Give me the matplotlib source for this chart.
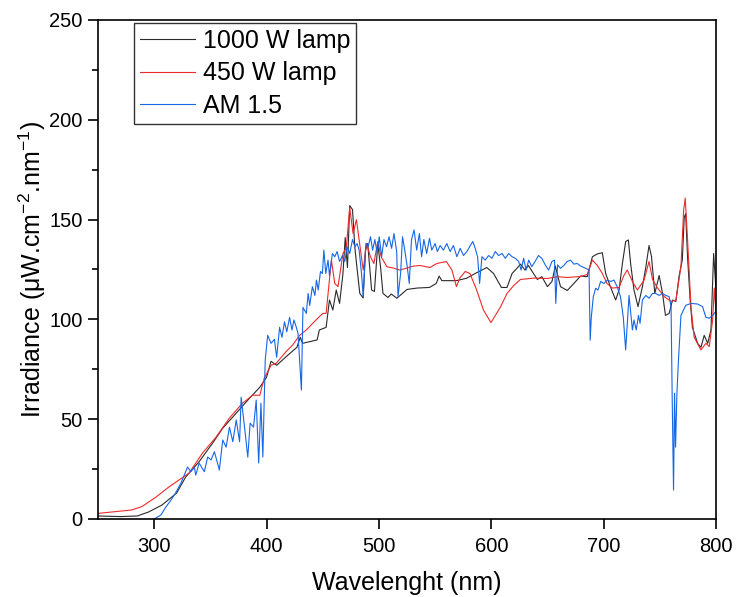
import matplotlib
matplotlib.use('Agg')
import matplotlib.pyplot as plt
from matplotlib.ticker import MultipleLocator

# 1000 W lamp
wl_1000 = [250, 270, 285, 295, 307, 320, 328, 340, 352, 361, 373, 385, 394, 400, 404, 409,
           418, 427, 430, 432, 445, 447, 453, 456, 459, 462, 465, 468, 470, 472, 474, 476.5,
           478.6, 480.5, 483, 486, 488, 490, 493.5, 496, 499, 501.5, 503.6, 508, 511, 516,
           525, 534, 545, 551, 553.6, 556, 569, 578, 587, 596, 602, 609, 614, 618.5, 623,
           626, 630, 633, 641, 645, 650, 654, 657, 661.6, 667.6, 673.5, 679.5, 685.4, 690,
           694.4, 698.8, 701.8, 706, 710.7, 713.7, 716.7, 719.6, 722, 724, 727, 730.6, 734.5,
           737.5, 740.4, 742.6, 745.5, 749.4, 752.4, 755, 758.3, 761.3, 764.3, 767.2, 770,
           771.7, 773, 774.7, 777, 779, 783.6, 786.6, 789.5, 792.6, 795.5, 797.9, 800]
irr_1000 = [1.5, 1.2, 1.5, 3.5, 7, 13, 21, 28.7, 38, 45.5, 53, 60.6, 66, 71, 79, 77,
            81.6, 86, 91, 88, 89.7, 94.7, 96, 109.7, 104.7, 114.7, 108, 123, 141, 126, 157, 155,
            136, 125.7, 113, 110.7, 134.7, 138, 114.7, 114, 138, 126, 113, 111, 112.7, 110.6,
            115, 115.7, 116, 118, 121.7, 119.4, 119.4, 120.6, 123.4, 126, 123, 116, 116, 123, 125.7,
            127.7, 124.7, 127, 120, 121.4, 116.4, 119, 126.7, 116.4, 114.5, 118, 121.7, 121.4, 131.4,
            132.8, 133.4, 123, 116.4, 109.7, 114.7, 128, 139, 139.8, 128, 114.7, 106.4, 116.4,
            126, 137, 131.4, 113, 122, 113, 102, 103, 109.7, 109, 122, 129.7,
            151, 153, 131, 109.7, 96, 88, 86, 92, 88, 94.7, 133, 114.7]

# 450 W lamp
wl_450 = [250, 280, 289, 301.7, 313, 322, 331, 343, 355, 367, 378.6, 387.6, 394, 398, 404, 408.6,
          417.6, 423, 429.5, 435.4, 444, 450, 453, 457.7, 460.7, 463.6, 468, 471, 474, 477, 480,
          482.4, 486, 489, 492.5, 495.5, 499, 502, 507, 513, 518.75, 530.6, 536.6, 545.5, 551.5,
          560, 565, 569, 572, 576.8, 581, 587, 593, 599.7, 608, 614, 620, 626, 638, 650, 659,
          667.6, 679.5, 685.4, 690, 694.4, 698.8, 703, 707.7, 713.7, 718, 721, 725.6, 730, 736,
          740.4, 743.5, 748, 754, 760, 764.3, 768.8, 771.2, 772.6, 774.7, 777.7, 780.6, 786.6,
          791, 794, 797, 798.5, 800]
irr_450 = [2.8, 4.5, 6.2, 11, 16, 19.5, 23, 33, 41, 50.6, 58, 62, 62, 70.6, 77, 78,
           84, 87, 92, 94.7, 99.7, 103, 103, 129.7, 118, 116.4, 133, 136, 156, 143, 150,
           139.8, 124.7, 138, 131.4, 128, 139, 131.4, 126.4, 125.7, 124.7, 126.7, 127, 126, 128,
           129, 124.7, 116.4, 120.7, 124, 123, 114.7, 104.7, 98.4, 106, 113, 117, 120, 120.7, 120.5, 121.4,
           121, 121.5, 122.5, 129.7, 127, 123, 118, 115.7, 116, 122, 124.7, 119, 114.7, 119.7,
           129, 120, 115.7, 111.4, 109, 109.7, 126.4, 154.8, 160.8, 139.8, 106.4, 91, 84.7,
           88, 86.4, 99.7, 115.7, 103]

# AM 1.5
wl_am15 = [300, 301.5, 306, 310.4, 315, 319, 323.8, 326.8, 329.7, 332.7, 335.7, 337, 340, 344.6,
           347.6, 350.6, 353.6, 358, 361, 364, 367, 370, 373, 376, 377.4, 380.4, 383.3, 385.4,
           388.4, 390.8, 393, 395, 396.7, 398.8, 401, 404, 407, 409, 411.6, 413.7, 416, 418,
           420.5, 422.6, 424.4, 426.5, 428, 431, 432.4, 435.4, 437, 438.4, 440.8, 443, 444.4,
           446, 448, 449.7, 451, 452.7, 454.7, 456, 458.6, 460.7, 462.8, 465, 467.5, 469.6,
           471.7, 474, 476.5, 478.6, 480.6, 482.4, 484.5, 486, 488.4, 490.4, 492.5, 494.4,
           496.4, 498.5, 500.3, 502.4, 504.5, 506.8, 509, 511.3, 513.4, 515.8, 517, 519.3, 521,
           523, 525.2, 527, 529, 531.3, 533.6, 536, 538, 540, 542.5, 545, 547, 550, 552, 554.5,
           557.4, 560.4, 563.4, 566.3, 569.4, 572.3, 575.3, 578.3, 581.3, 583.6, 585.7, 587.8,
           589.6, 591.7, 594.6, 597.6, 600.6, 603.6, 606.5, 609.6, 612.5, 615.5, 618.5, 621.4,
           624.4, 626.5, 628.8, 631, 633.3, 636, 639, 642, 645, 648, 651, 654, 656.3, 657.4,
           659, 661.6, 664.5, 667.6, 670.5, 673.5, 676.5, 679.5, 684, 687, 688, 689, 690.8,
           692.9, 695, 697.3, 700.3, 703.3, 706.3, 709.2, 712, 715, 717.5, 719.6, 722.6, 725.6,
           727, 729, 731, 732.4, 734.5, 737.5, 740.4, 743.5, 746.4, 749.4, 752.4, 755.4, 758.3,
           760, 761, 762.2, 763.1, 764, 765.2, 766.6, 768.8, 773, 777.7, 783.6, 788, 791, 794,
           797, 800]
irr_am15 = [0, 0.5, 2, 6, 9.5, 13, 18, 22, 26, 23.7, 26, 22, 28, 23.7,
            31, 29.6, 33.7, 24.5, 39.6, 36, 46, 38.7, 49.6, 38.7, 61, 46, 31, 48,
            46, 59.6, 28, 58, 31, 79.6, 92, 88, 90, 81, 96, 91, 98.8, 93.8,
            101, 94.7, 99.7, 96, 93, 64.6, 106, 103, 113, 107, 116.4, 112, 119.7,
            114.7, 124, 123, 134.7, 123, 129.7, 122, 133, 131.4, 134, 129, 132, 129,
            136.4, 133, 140, 136.4, 138, 134.7, 123, 111.4, 138, 136.4, 141.4, 134.7,
            140, 133, 141.4, 131.4, 140, 136.4, 141.4, 135.6, 143, 134, 111.4, 123, 141.4,
            134.7, 126.4, 118, 140, 144.8, 134.7, 143, 131.4, 140, 133, 140.6, 134.7, 138, 134, 137,
            134.7, 138, 134, 137, 131.4, 135.6, 132, 134, 137, 139, 135.6, 131.4,
            118, 131.4, 129.7, 132, 130.6, 134, 132, 133, 130.6, 133, 131.4, 130.6,
            129, 124.7, 130.6, 124.7, 129.7, 126.4, 129, 132, 130.6, 127.3, 124.7, 129, 129.7, 108,
            127.3, 125.6, 127, 129, 129.7, 127.7, 128, 126.7, 125.6, 124.7, 89.6, 101, 111.4,
            115.6, 114.7, 119, 118, 119.7, 119, 119.7, 116.4, 111.4, 101, 84.7, 112, 94.7,
            99.7, 94.7, 102, 98, 109.7, 112, 110.6, 113, 113, 112, 113, 112, 111.4,
            106.4, 61, 14.5, 63, 36, 63, 79.7, 102, 107, 108, 107.7, 106.4, 101, 100.6,
            102, 104]

plt.rcParams['font.family'] = ['Liberation Sans', 'DejaVu Sans']
plt.rcParams['mathtext.fontset'] = 'custom'
plt.rcParams['mathtext.rm'] = 'Liberation Sans'

fig = plt.figure(figsize=(7.38, 5.97), dpi=100)
ax = fig.add_axes([0.1328, 0.1307, 0.8374, 0.8358])

ax.plot(wl_1000, irr_1000, color='#2a2a2a', linewidth=0.8, label='1000 W lamp')
ax.plot(wl_450, irr_450, color='#ee2a2a', linewidth=0.8, label='450 W lamp')
ax.plot(wl_am15, irr_am15, color='#1667e6', linewidth=0.8, label='AM 1.5')

ax.set_xlim(250, 800)
ax.set_ylim(0, 250)
ax.xaxis.set_major_locator(MultipleLocator(100))
ax.yaxis.set_major_locator(MultipleLocator(50))
ax.yaxis.set_minor_locator(MultipleLocator(25))
ax.tick_params(which='major', direction='out', length=7, width=1.2, labelsize=14.5)
ax.tick_params(axis='x', which='major', pad=6)
ax.tick_params(axis='y', which='major', pad=4)
ax.tick_params(which='minor', direction='out', length=4, width=1.2)
for s in ax.spines.values():
    s.set_linewidth(1.2)

ax.set_xlabel('Wavelenght (nm)', fontsize=18, labelpad=11)
ax.set_ylabel(r'Irradiance ($\mathregular{\mu}$W.cm$^{-2}$.nm$^{-1}$)', fontsize=18, labelpad=1)

leg = ax.legend(loc='upper left', bbox_to_anchor=(0.058, 0.994), borderaxespad=0,
                fontsize=18, fancybox=False, framealpha=1, edgecolor='#333333',
                handlelength=2.2, handletextpad=0.3, labelspacing=0.33, borderpad=0.25)
leg.get_frame().set_linewidth(1.0)

plt.savefig('out.png', dpi=100)
